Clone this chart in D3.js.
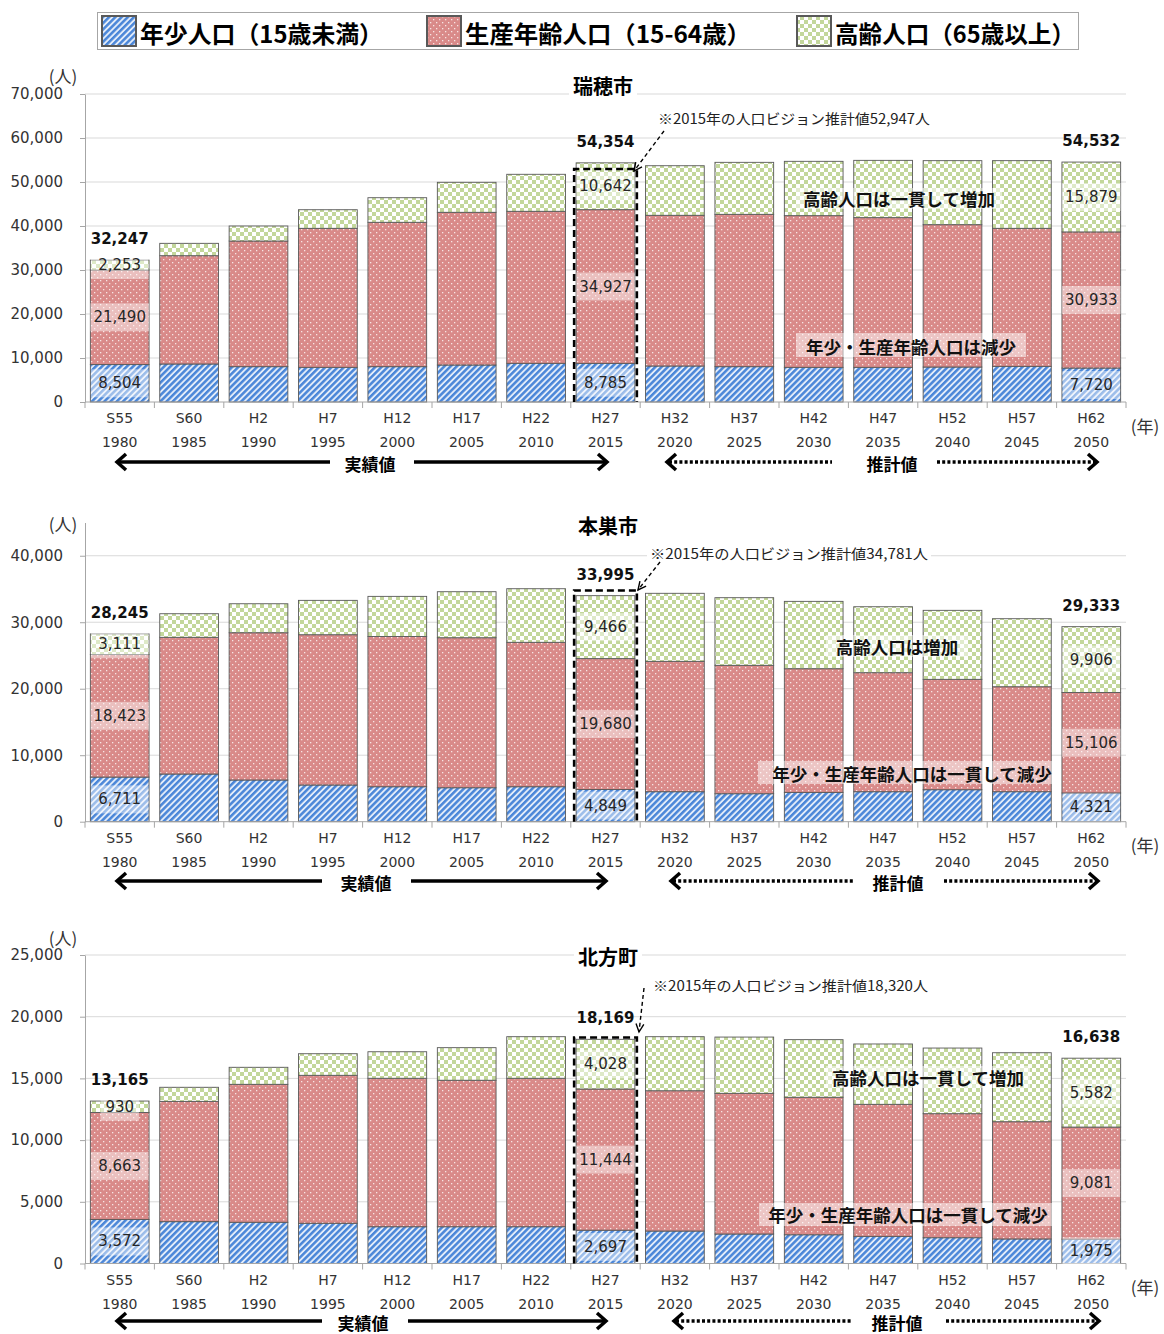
<!DOCTYPE html>
<html>
<head>
<meta charset="utf-8">
<script src="https://cdn.jsdelivr.net/npm/d3@7"></script>
<style>
  body { margin: 0; background: #fff; }
  svg { display: block; }
</style>
</head>
<body>
<div id="chart"></div>
<script>
// ---- data ----
const categories = ["S55", "S60", "H2", "H7", "H12", "H17", "H22", "H27", "H32", "H37", "H42", "H47", "H52", "H57", "H62"];
const years = ["1980", "1985", "1990", "1995", "2000", "2005", "2010", "2015", "2020", "2025", "2030", "2035", "2040", "2045", "2050"];
const seriesNames = ["年少人口（15歳未満）", "生産年齢人口（15-64歳）", "高齢人口（65歳以上）"];

// 瑞穂市
const mizuhoYoung   = [8504, 8640, 8030, 7880, 8030, 8410, 8790, 8785, 8180, 8030, 7880, 7880, 7950, 8100, 7720];
const mizuhoWorking = [21490, 24610, 28560, 31590, 32810, 34700, 34550, 34927, 34250, 34620, 34470, 34020, 32350, 31370, 30933];
const mizuhoElderly = [2253, 2810, 3410, 4230, 5590, 6820, 8410, 10642, 11270, 11820, 12350, 13020, 14550, 15380, 15879];
const mizuhoTicks = [0, 10000, 20000, 30000, 40000, 50000, 60000, 70000];

// 本巣市
const motosuYoung   = [6711, 7170, 6270, 5520, 5260, 5110, 5260, 4849, 4510, 4210, 4410, 4510, 4810, 4510, 4321];
const motosuWorking = [18423, 20560, 22150, 22600, 22600, 22560, 21720, 19680, 19610, 19310, 18600, 17900, 16600, 15790, 15106];
const motosuElderly = [3111, 3550, 4360, 5170, 6030, 6920, 8060, 9466, 10230, 10170, 10130, 9920, 10380, 10230, 9906];
const motosuTicks = [0, 10000, 20000, 30000, 40000];

// 北方町
const kitagataYoung   = [3572, 3390, 3340, 3260, 2980, 2980, 2980, 2697, 2630, 2390, 2330, 2200, 2090, 1990, 1975];
const kitagataWorking = [8663, 9750, 11180, 11990, 12030, 11870, 12030, 11444, 11370, 11400, 11140, 10700, 10050, 9500, 9081];
const kitagataElderly = [930, 1140, 1380, 1750, 2150, 2640, 3370, 4028, 4380, 4560, 4670, 4890, 5320, 5590, 5582];
const kitagataTicks = [0, 5000, 10000, 15000, 20000, 25000];

const visionValues = [52947, 34781, 18320];
const labeledIdx = [0, 7, 14];

// ---- setup ----
const NUM = "'DejaVu Sans', Verdana, sans-serif";
const JP = "'Noto Sans CJK JP', 'Noto Sans', sans-serif";
const fmt = d3.format(",");

const svg = d3.select("#chart").append("svg")
    .attr("width", 1164)
    .attr("height", 1334);

const defs = svg.append("defs");

// blue hatch
const pb = defs.append("pattern").attr("id", "pBlue")
    .attr("patternUnits", "userSpaceOnUse")
    .attr("width", 4.4).attr("height", 4.4)
    .attr("patternTransform", "rotate(45)");
pb.append("rect").attr("width", 4.4).attr("height", 4.4).attr("fill", "#e3ecf9");
pb.append("rect").attr("width", 2.5).attr("height", 4.4).attr("fill", "#4a86d8");

// red dots
const pr = defs.append("pattern").attr("id", "pRed")
    .attr("patternUnits", "userSpaceOnUse")
    .attr("width", 6).attr("height", 6);
pr.append("rect").attr("width", 6).attr("height", 6).attr("fill", "#d98a89");
pr.append("rect").attr("x", 1).attr("y", 1).attr("width", 1.3).attr("height", 1.3).attr("fill", "#f7e4e4");
pr.append("rect").attr("x", 4).attr("y", 4).attr("width", 1.3).attr("height", 1.3).attr("fill", "#f7e4e4");

// green checker
const pg = defs.append("pattern").attr("id", "pGreen")
    .attr("patternUnits", "userSpaceOnUse")
    .attr("width", 8).attr("height", 8);
pg.append("rect").attr("width", 8).attr("height", 8).attr("fill", "#ffffff");
pg.append("rect").attr("width", 4).attr("height", 4).attr("fill", "#c3d79b");
pg.append("rect").attr("x", 4).attr("y", 4).attr("width", 4).attr("height", 4).attr("fill", "#c3d79b");

const fills = ["url(#pBlue)", "url(#pRed)", "url(#pGreen)"];
const keys = ["young", "working", "elderly"];

const x = d3.scaleBand()
    .domain(categories)
    .range([85, 1126])
    .paddingInner(0.154)
    .paddingOuter(0.077);

// ---- legend ----
const legend = svg.append("g");
legend.append("rect")
    .attr("x", 97.5).attr("y", 12.5).attr("width", 981).attr("height", 37)
    .attr("fill", "#fff").attr("stroke", "#a6a6a6");
const legX = [102, 427, 797];
const legTextW = [243, 286, 240];
seriesNames.forEach((name, i) => {
    legend.append("rect")
        .attr("x", legX[i]).attr("y", 16).attr("width", 34).attr("height", 30)
        .attr("fill", fills[i]).attr("stroke", "#595959").attr("stroke-width", 2);
    legend.append("text")
        .attr("x", legX[i] + 38).attr("y", 32)
        .attr("dominant-baseline", "central")
        .attr("font-family", JP).attr("font-weight", "bold").attr("font-size", 24)
        .attr("textLength", legTextW[i]).attr("lengthAdjust", "spacingAndGlyphs")
        .attr("fill", "#000")
        .text(name);
});

// ---- helpers ----
function arrowHead(g, tipX, tipY, dir) {
    g.append("path")
        .attr("d", `M${tipX - dir * 9},${tipY - 8} L${tipX},${tipY} L${tipX - dir * 9},${tipY + 8}`)
        .attr("fill", "none").attr("stroke", "#000").attr("stroke-width", 3.5);
}

function arrowRow(g, y, pts, label, tx, dotted) {
    const dash = dotted ? "3,2.2" : null;
    [[pts[0] + 2, pts[1]], [pts[2], pts[3] - 2]].forEach(s => {
        g.append("line")
            .attr("x1", s[0]).attr("x2", s[1]).attr("y1", y).attr("y2", y)
            .attr("stroke", "#000").attr("stroke-width", 3.5)
            .attr("stroke-dasharray", dash);
    });
    arrowHead(g, pts[0], y, -1);
    arrowHead(g, pts[3], y, 1);
    g.append("text")
        .attr("x", tx).attr("y", y + 1)
        .attr("text-anchor", "middle").attr("dominant-baseline", "central")
        .attr("font-family", JP).attr("font-weight", "bold").attr("font-size", 17)
        .text(label);
}

function callout(g, c) {
    g.append("rect")
        .attr("x", c.box[0]).attr("y", c.box[1])
        .attr("width", c.box[2] - c.box[0]).attr("height", c.box[3] - c.box[1])
        .attr("fill", "#fff").attr("opacity", 0.5);
    g.append("text")
        .attr("x", c.x).attr("y", c.y)
        .attr("text-anchor", "middle").attr("dominant-baseline", "central")
        .attr("font-family", JP).attr("font-weight", "bold").attr("font-size", 17.5)
        .attr("fill", "#111")
        .text(c.text);
}

function drawChart(cfg) {
    const g = svg.append("g");
    const y = d3.scaleLinear().domain([0, cfg.yMax]).range([cfg.y0, cfg.yTop]);

    const rows = categories.map((c, i) => ({
        cat: c, young: cfg.young[i], working: cfg.working[i], elderly: cfg.elderly[i]
    }));
    const stacked = d3.stack().keys(keys)(rows);

    // gridlines
    g.selectAll(".grid")
        .data(cfg.ticks.filter(t => t > 0))
        .join("line")
        .attr("x1", 85).attr("x2", 1126)
        .attr("y1", d => y(d)).attr("y2", d => y(d))
        .attr("stroke", "#d9d9d9").attr("stroke-width", 1);

    // y axis
    const ya = g.append("g")
        .attr("transform", "translate(85,0)")
        .call(d3.axisLeft(y).tickValues(cfg.ticks).tickFormat(fmt).tickSize(5).tickSizeOuter(0).tickPadding(17));
    ya.select(".domain").attr("stroke", "#a6a6a6");
    ya.selectAll(".tick line").attr("stroke", "#a6a6a6");
    ya.selectAll(".tick text")
        .attr("font-family", NUM).attr("font-size", 15).attr("fill", "#333");

    // unit label
    g.append("text")
        .attr("x", 63).attr("y", cfg.unitY)
        .attr("text-anchor", "middle").attr("dominant-baseline", "central")
        .attr("font-family", JP).attr("font-size", 17).attr("fill", "#333")
        .text("(人)");

    // title
    g.append("rect")
        .attr("x", cfg.titleX - 34).attr("y", cfg.titleY - 11)
        .attr("width", 68).attr("height", 22)
        .attr("fill", "#fff");
    g.append("text")
        .attr("x", cfg.titleX).attr("y", cfg.titleY)
        .attr("text-anchor", "middle").attr("dominant-baseline", "central")
        .attr("font-family", JP).attr("font-weight", "bold").attr("font-size", 20)
        .text(cfg.name);

    // note about vision
    g.append("rect")
        .attr("x", cfg.noteX - 3).attr("y", cfg.noteY - 9)
        .attr("width", cfg.noteW + 6).attr("height", 18)
        .attr("fill", "#fff");
    g.append("text")
        .attr("x", cfg.noteX).attr("y", cfg.noteY)
        .attr("dominant-baseline", "central")
        .attr("font-family", JP).attr("font-size", 14).attr("fill", "#222")
        .attr("textLength", cfg.noteW).attr("lengthAdjust", "spacingAndGlyphs")
        .text(cfg.noteText);

    // bars
    stacked.forEach((layer, li) => {
        g.append("g").selectAll("rect")
            .data(layer)
            .join("rect")
            .attr("x", d => x(d.data.cat))
            .attr("width", x.bandwidth())
            .attr("y", d => y(d[1]))
            .attr("height", d => y(d[0]) - y(d[1]))
            .attr("fill", fills[li])
            .attr("stroke", "#595959").attr("stroke-width", 0.9);
    });

    // x axis line and ticks
    g.append("line")
        .attr("x1", 85).attr("x2", 1126).attr("y1", cfg.y0).attr("y2", cfg.y0)
        .attr("stroke", "#a6a6a6");
    const bounds = d3.range(categories.length + 1).map(i => 85 + x.step() * i);
    g.selectAll(".xt").data(bounds).join("line")
        .attr("x1", d => d).attr("x2", d => d)
        .attr("y1", cfg.y0).attr("y2", cfg.y0 + 6)
        .attr("stroke", "#a6a6a6");

    // category labels
    categories.forEach((c, i) => {
        const cx = x(c) + x.bandwidth() / 2;
        g.append("text")
            .attr("x", cx).attr("y", cfg.y0 + 16)
            .attr("text-anchor", "middle").attr("dominant-baseline", "central")
            .attr("font-family", NUM).attr("font-size", 14).attr("fill", "#333")
            .text(c);
        g.append("text")
            .attr("x", cx).attr("y", cfg.y0 + 40)
            .attr("text-anchor", "middle").attr("dominant-baseline", "central")
            .attr("font-family", NUM).attr("font-size", 14).attr("fill", "#333")
            .text(years[i]);
    });
    g.append("text")
        .attr("x", 1145).attr("y", cfg.y0 + 23)
        .attr("text-anchor", "middle").attr("dominant-baseline", "central")
        .attr("font-family", JP).attr("font-size", 17).attr("fill", "#333")
        .text("(年)");

    // value labels
    labeledIdx.forEach(i => {
        const c = categories[i];
        const bx = x(c), bw = x.bandwidth(), cx = bx + bw / 2;
        stacked.forEach(layer => {
            const d = layer[i];
            const cy = (y(d[0]) + y(d[1])) / 2;
            const label = fmt(d[1] - d[0]);
            const w = Math.min(label.length * 9.5 + 10, bw);
            g.append("rect")
                .attr("x", cx - w / 2).attr("y", cy - 14)
                .attr("width", w).attr("height", 28)
                .attr("fill", "#fff").attr("opacity", 0.45);
            g.append("text")
                .attr("x", cx).attr("y", cy)
                .attr("text-anchor", "middle").attr("dominant-baseline", "central")
                .attr("font-family", NUM).attr("font-size", 15).attr("fill", "#262626")
                .text(label);
        });
        const total = cfg.young[i] + cfg.working[i] + cfg.elderly[i];
        g.append("text")
            .attr("x", cx).attr("y", y(total) - 21)
            .attr("text-anchor", "middle").attr("dominant-baseline", "central")
            .attr("font-family", NUM).attr("font-weight", "bold").attr("font-size", 15)
            .attr("fill", "#111")
            .text(fmt(total));
    });

    // vision dashed box on 2015
    const vb = x("H27");
    const vy = y(cfg.vision);
    g.append("path")
        .attr("d", `M${vb - 2},${cfg.y0} V${vy} H${vb + x.bandwidth() + 2} V${cfg.y0}`)
        .attr("fill", "none").attr("stroke", "#000").attr("stroke-width", 2.6)
        .attr("stroke-dasharray", "7,4");

    // dashed pointer arrow
    const [ax1, ay1] = cfg.arrowFrom, [ax2, ay2] = cfg.arrowTo;
    g.append("line")
        .attr("x1", ax1).attr("y1", ay1).attr("x2", ax2).attr("y2", ay2)
        .attr("stroke", "#000").attr("stroke-width", 1.4)
        .attr("stroke-dasharray", "4,3");
    const ang = Math.atan2(ay2 - ay1, ax2 - ax1);
    const hl = 9;
    g.append("path")
        .attr("d", `M${ax2 - hl * Math.cos(ang - 0.45)},${ay2 - hl * Math.sin(ang - 0.45)} L${ax2},${ay2} L${ax2 - hl * Math.cos(ang + 0.45)},${ay2 - hl * Math.sin(ang + 0.45)}`)
        .attr("fill", "none").attr("stroke", "#000").attr("stroke-width", 1.4);

    // callouts
    callout(g, cfg.elderNote);
    callout(g, cfg.youngNote);

    // bottom arrows
    arrowRow(g, cfg.rowY, cfg.solid, "実績値", cfg.solidTx, false);
    arrowRow(g, cfg.rowY, cfg.dotted, "推計値", cfg.dottedTx, true);
}

drawChart({
    name: "瑞穂市", young: mizuhoYoung, working: mizuhoWorking, elderly: mizuhoElderly,
    ticks: mizuhoTicks, yMax: 70000, y0: 402, yTop: 94, unitY: 75,
    titleX: 603, titleY: 85,
    vision: visionValues[0], noteText: "※2015年の人口ビジョン推計値52,947人",
    noteX: 658, noteY: 118, noteW: 272,
    arrowFrom: [664, 131], arrowTo: [634, 171],
    elderNote: { text: "高齢人口は一貫して増加", x: 899, y: 198, box: [796, 188, 1002, 209] },
    youngNote: { text: "年少・生産年齢人口は減少", x: 911, y: 346, box: [796, 333, 1026, 357] },
    rowY: 462, solid: [117, 330, 414, 607], solidTx: 370,
    dotted: [667, 832, 937, 1097], dottedTx: 892
});

drawChart({
    name: "本巣市", young: motosuYoung, working: motosuWorking, elderly: motosuElderly,
    ticks: motosuTicks, yMax: 45000, y0: 821.7, yTop: 522.5, unitY: 523,
    titleX: 608, titleY: 525,
    vision: visionValues[1], noteText: "※2015年の人口ビジョン推計値34,781人",
    noteX: 650, noteY: 553, noteW: 278,
    arrowFrom: [660, 562], arrowTo: [638, 590],
    elderNote: { text: "高齢人口は増加", x: 897, y: 646, box: [826, 635, 968, 657] },
    youngNote: { text: "年少・生産年齢人口は一貫して減少", x: 912, y: 773, box: [758, 761, 1054, 784] },
    rowY: 881, solid: [117, 322, 411, 606], solidTx: 366,
    dotted: [671, 854, 944, 1098], dottedTx: 898
});

drawChart({
    name: "北方町", young: kitagataYoung, working: kitagataWorking, elderly: kitagataElderly,
    ticks: kitagataTicks, yMax: 25000, y0: 1263.5, yTop: 955, unitY: 937,
    titleX: 608, titleY: 956,
    vision: visionValues[2], noteText: "※2015年の人口ビジョン推計値18,320人",
    noteX: 653, noteY: 985, noteW: 275,
    arrowFrom: [644, 988], arrowTo: [639, 1032],
    elderNote: { text: "高齢人口は一貫して増加", x: 928, y: 1077, box: [826, 1066, 1030, 1088] },
    youngNote: { text: "年少・生産年齢人口は一貫して減少", x: 908, y: 1214, box: [759, 1203, 1054, 1226] },
    rowY: 1321, solid: [117, 322, 408, 606], solidTx: 363,
    dotted: [674, 852, 946, 1099], dottedTx: 897
});
</script>
</body>
</html>
